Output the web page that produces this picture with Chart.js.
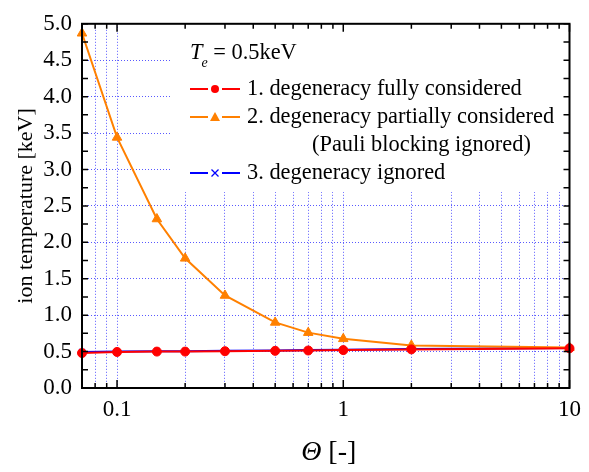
<!DOCTYPE html>
<html>
<head>
<meta charset="utf-8">
<script src="https://cdn.jsdelivr.net/npm/chart.js@4"></script>
<style>
html,body{margin:0;padding:0;background:#fff;}
#wrap{width:589px;height:472px;position:relative;}
</style>
</head>
<body>
<div id="wrap"><canvas id="c" width="589" height="472"></canvas></div>
<script>
// ---- data ----
const theta = [0.07, 0.1, 0.15, 0.2, 0.3, 0.5, 0.7, 1, 2, 10];
const fullyConsidered     = [0.48, 0.495, 0.50, 0.50, 0.505, 0.51, 0.515, 0.52, 0.53, 0.545];
const partiallyConsidered = [4.87, 3.44, 2.32, 1.78, 1.27, 0.90, 0.76, 0.675, 0.585, 0.555];
const degeneracyIgnored   = [0.495, 0.50, 0.505, 0.505, 0.51, 0.515, 0.52, 0.525, 0.535, 0.55];
const xMajorTicks = [0.1, 1, 10];
const xTickLabels = ['0.1', '1', '10'];
const yTickLabels = ['0.0','0.5','1.0','1.5','2.0','2.5','3.0','3.5','4.0','4.5','5.0'];
const seriesLabels = ['1. degeneracy fully considered', '2. degeneracy partially considered', '3. degeneracy ignored'];
const seriesNote = '(Pauli blocking ignored)';
const xTitleSymbol = 'Θ';
const xTitleUnit = ' [-]';
const yTitle = 'ion temperature [keV]';
const headerSymbol = 'T';
const headerSub = 'e';
const headerText = ' = 0.5keV';

// ---- styling ----
const FONT = 'Liberation Serif';
Chart.defaults.font.family = FONT;
Chart.defaults.color = '#000';
const GRID = 'rgba(60,60,255,0.85)';
const colors = ['#ff0000', '#ff8000', '#0000ff'];
const styles = ['circle', 'triangle', 'crossRot'];
const radii = [4.5, 5.5, 4];
const LEG = '22.4px "' + FONT + '"';

// x ticks (decade minors)
const xTickValues = [];
[0.01, 0.1, 1].forEach(d => {
  for (let m = 1; m <= 9; m++) {
    const v = Number((d * m).toPrecision(6));
    if (v > 0.07 && v <= 10) xTickValues.push(v);
  }
});
xTickValues.push(10);

function pts(arr) { return theta.map((x, i) => ({ x: x, y: arr[i] })); }
const seriesData = [fullyConsidered, partiallyConsidered, degeneracyIgnored];

const datasets = seriesData.map((arr, i) => ({
  label: seriesLabels[i],
  data: pts(arr),
  borderColor: colors[i],
  backgroundColor: colors[i],
  pointBackgroundColor: colors[i],
  pointBorderColor: colors[i],
  pointStyle: styles[i],
  pointRadius: radii[i],
  pointBorderWidth: i === 2 ? 1.5 : 1,
  borderWidth: 2,
  tension: 0,
  clip: false
}));

const isMajor = v => xMajorTicks.some(m => Math.abs(m - v) < 1e-9);
const tickFont = () => ({ family: FONT, size: 23, style: 'normal', weight: 'normal' });

const legendPlugin = {
  id: 'boxLegend',
  beforeDatasetsDraw(chart) {
    const ctx = chart.ctx;
    ctx.save();
    ctx.fillStyle = '#ffffff';
    ctx.fillRect(172, 26, 395, 166);
    ctx.restore();
  },
  afterDatasetsDraw(chart) {
    const ctx = chart.ctx;
    ctx.save();
    ctx.fillStyle = '#000';
    ctx.textBaseline = 'alphabetic';
    // header
    ctx.font = 'italic ' + LEG;
    ctx.fillText(headerSymbol, 190, 59);
    let w = ctx.measureText(headerSymbol).width;
    ctx.font = 'italic 14px "' + FONT + '"';
    ctx.fillText(headerSub, 190 + w - 1, 67);
    const ws = ctx.measureText(headerSub).width;
    ctx.font = LEG;
    ctx.fillText(headerText, 190 + w + ws - 1, 59);
    // rows
    const rows = [89, 117, 173];
    const bases = [95, 123, 179];
    rows.forEach((ry, i) => {
      ctx.strokeStyle = colors[i];
      ctx.fillStyle = colors[i];
      ctx.lineWidth = 2;
      ctx.beginPath();
      ctx.moveTo(190, ry); ctx.lineTo(208, ry);
      ctx.moveTo(222, ry); ctx.lineTo(240, ry);
      ctx.stroke();
      const cx = 215;
      if (styles[i] === 'circle') {
        ctx.beginPath(); ctx.arc(cx, ry, 4, 0, Math.PI * 2); ctx.fill();
      } else if (styles[i] === 'triangle') {
        ctx.beginPath();
        ctx.moveTo(cx, ry - 5); ctx.lineTo(cx + 5, ry + 4); ctx.lineTo(cx - 5, ry + 4);
        ctx.closePath(); ctx.fill();
      } else {
        ctx.lineWidth = 1.3;
        ctx.beginPath();
        ctx.moveTo(cx - 3.5, ry - 3.5); ctx.lineTo(cx + 3.5, ry + 3.5);
        ctx.moveTo(cx + 3.5, ry - 3.5); ctx.lineTo(cx - 3.5, ry + 3.5);
        ctx.stroke();
      }
      ctx.fillStyle = '#000';
      ctx.font = LEG;
      ctx.fillText(seriesLabels[i], 247, bases[i]);
    });
    ctx.fillText(seriesNote, 312, 151);
    ctx.restore();
  }
};

const framePlugin = {
  id: 'frame',
  afterDraw(chart) {
    const { ctx, chartArea: a, scales } = chart;
    const x = scales.x, y = scales.y;
    ctx.save();
    ctx.strokeStyle = '#000';
    ctx.lineWidth = 1.5;
    ctx.beginPath();
    for (let k = 0; k <= 20; k++) {
      const py = y.getPixelForValue(k * 0.25);
      ctx.moveTo(a.left, py); ctx.lineTo(a.left + 6, py);
      ctx.moveTo(a.right, py); ctx.lineTo(a.right - 6, py);
    }
    x.ticks.forEach(t => {
      const px = x.getPixelForValue(t.value);
      const len = isMajor(t.value) ? 8 : 5;
      ctx.moveTo(px, a.bottom); ctx.lineTo(px, a.bottom - len);
      ctx.moveTo(px, a.top); ctx.lineTo(px, a.top + len);
    });
    ctx.stroke();
    ctx.lineWidth = 2;
    ctx.strokeRect(a.left, a.top, a.right - a.left, a.bottom - a.top);
    // x title
    ctx.fillStyle = '#000';
    ctx.textBaseline = 'middle';
    ctx.font = 'italic 28px "' + FONT + '"';
    const w1 = ctx.measureText(xTitleSymbol).width;
    ctx.font = '28px "' + FONT + '"';
    const w2 = ctx.measureText(xTitleUnit).width;
    const cx = (a.left + a.right) / 2 + 3;
    const sx = cx - (w1 + w2) / 2;
    ctx.font = 'italic 28px "' + FONT + '"';
    ctx.fillText(xTitleSymbol, sx, 453);
    ctx.font = '28px "' + FONT + '"';
    ctx.fillText(xTitleUnit, sx + w1, 453);
    ctx.restore();
  }
};

new Chart(document.getElementById('c'), {
  type: 'line',
  data: { datasets },
  options: {
    responsive: false,
    animation: false,
    events: [],
    layout: { padding: { left: 0, right: 12, top: 16, bottom: 0 } },
    plugins: { legend: { display: false }, tooltip: { enabled: false } },
    scales: {
      x: {
        type: 'logarithmic',
        min: 0.07,
        max: 10,
        afterBuildTicks: s => { s.ticks = xTickValues.map(v => ({ value: v, major: false })); },
        afterFit: s => { s.height = 84; },
        grid: { color: GRID, lineWidth: 1, drawTicks: false },
        border: { display: false, dash: [1, 2] },
        ticks: {
          autoSkip: false, maxRotation: 0, padding: 8, color: '#000',
          font: tickFont,
          callback: v => { const i = xMajorTicks.findIndex(m => Math.abs(m - v) < 1e-9); return i >= 0 ? xTickLabels[i] : ''; }
        },
        title: { display: false }
      },
      y: {
        type: 'linear',
        min: 0,
        max: 5,
        afterFit: s => { s.width = 82; },
        grid: { color: GRID, lineWidth: 1, drawTicks: false },
        border: { display: false, dash: [1, 2] },
        ticks: {
          stepSize: 0.5, padding: 10, color: '#000',
          font: tickFont,
          callback: (v, i) => yTickLabels[Math.round(v / 0.5)]
        },
        title: {
          display: true, text: yTitle, color: '#000',
          font: { family: FONT, size: 22 },
          padding: { top: 13, bottom: 0 }
        }
      }
    }
  },
  plugins: [legendPlugin, framePlugin]
});
</script>
</body>
</html>
